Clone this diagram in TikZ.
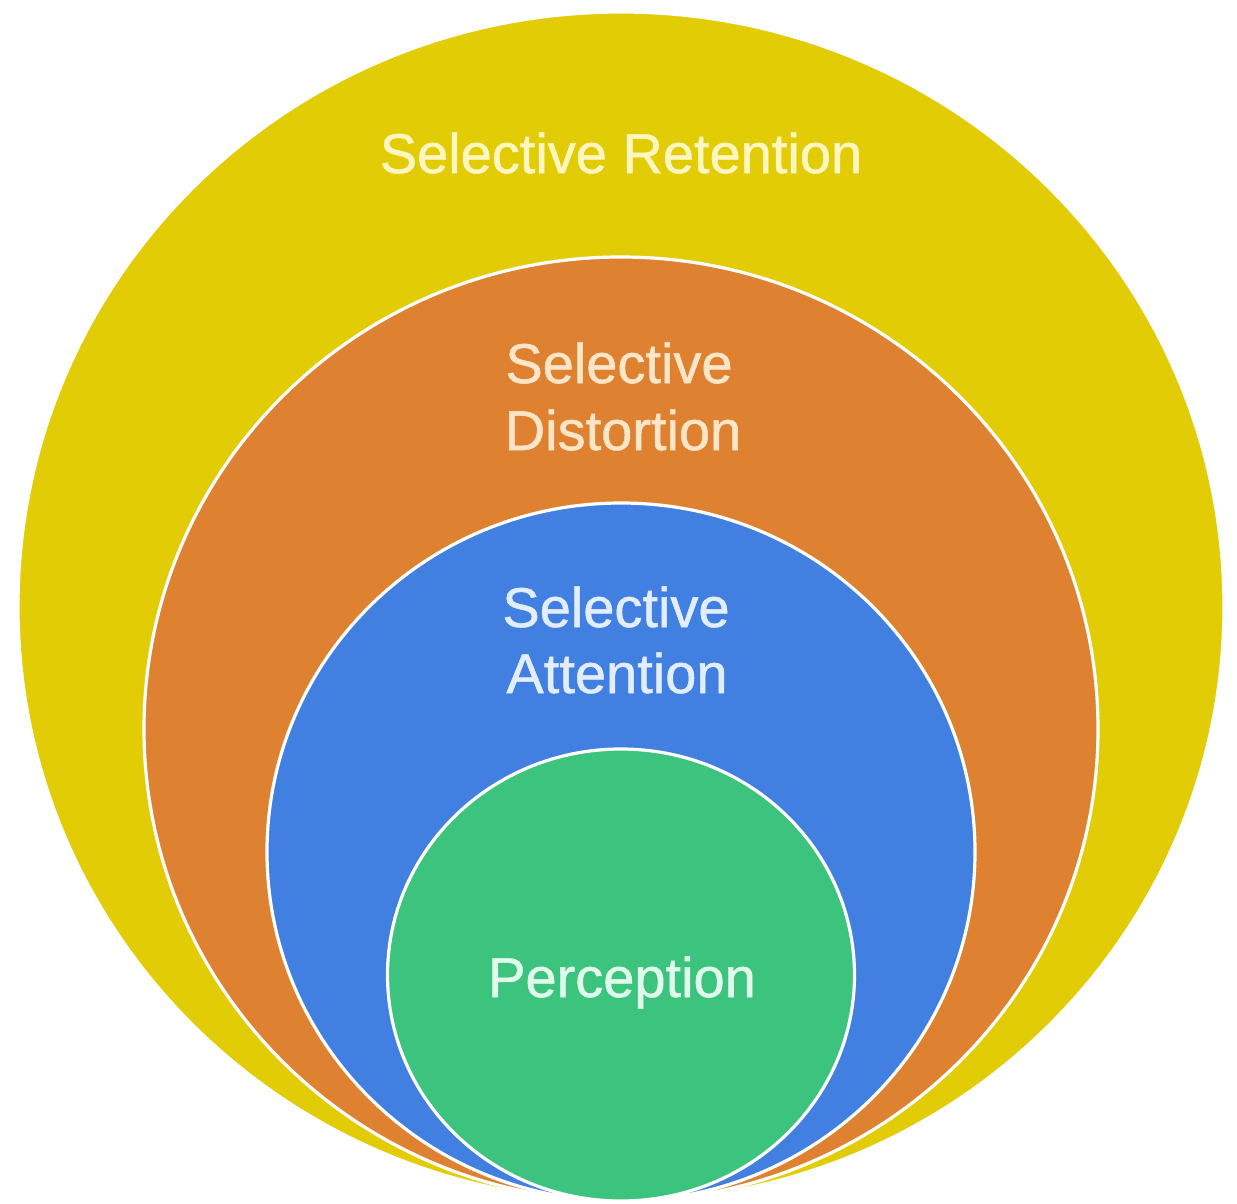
\documentclass[tikz,border=0pt]{standalone}
\usepackage{fontspec}
\setmainfont{Liberation Sans}
\newfontfamily\lblfont{Liberation Sans}[FakeBold=0.9]
\definecolor{ringY}{HTML}{E2CC05}
\definecolor{ringO}{HTML}{DE8130}
\definecolor{ringB}{HTML}{4180E0}
\definecolor{ringG}{HTML}{3CC47E}
\definecolor{txtY}{HTML}{FFF6C0}
\definecolor{txtO}{HTML}{FDE6C8}
\definecolor{txtB}{HTML}{E2EEFF}
\definecolor{txtG}{HTML}{E0FBEC}
\begin{document}
\begin{tikzpicture}[x=0.5pt,y=-0.5pt,
  ring/.style={draw=white,line width=1.6pt},
  lbl/.style={anchor=base,inner sep=0pt,font=\lblfont\fontsize{28}{34}\selectfont}]
\useasboundingbox (0,0) rectangle (1237,1204);
\fill[white] (0,0) rectangle (1237,1204);
\filldraw[ring,fill=ringY] (621,606.5) ellipse [x radius=603, y radius=594.5];
\filldraw[ring,fill=ringO] (621,729) ellipse [x radius=477, y radius=472];
\filldraw[ring,fill=ringB] (621,852) ellipse [x radius=354, y radius=349];
\filldraw[ring,fill=ringG] (621,975) ellipse [x radius=233.5, y radius=226];
\node[lbl,text=txtY] (ret) at (621,173) {Selective Retention};
\node[lbl,text=txtO] (dis1) at (619,383) {Selective};
\node[lbl,text=txtO] (dis2) at (623,450) {Distortion};
\node[lbl,text=txtB] (att1) at (616,627) {Selective};
\node[lbl,text=txtB] (att2) at (617,693) {Attention};
\node[lbl,text=txtG] (per) at (622,997) {Perception};
\end{tikzpicture}
\end{document}
